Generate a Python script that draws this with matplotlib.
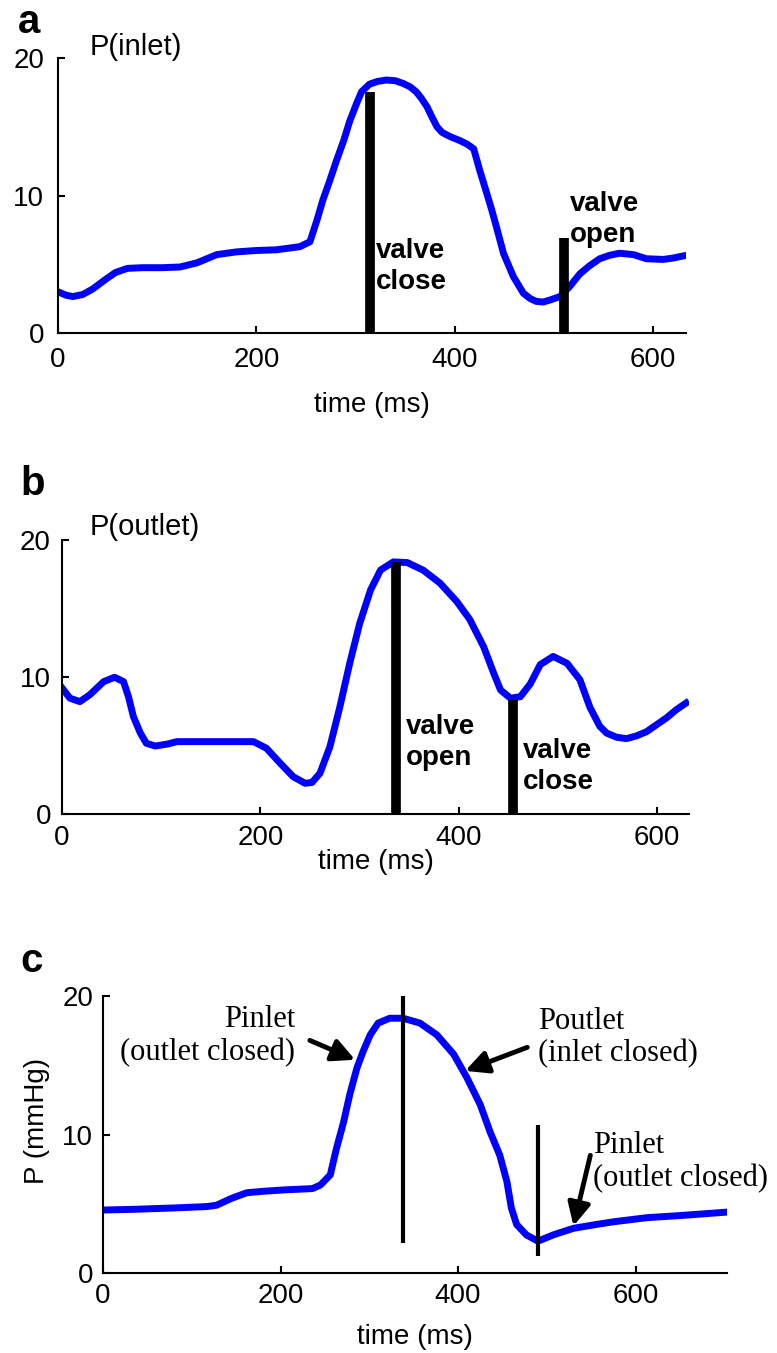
import matplotlib
matplotlib.use("Agg")
import matplotlib.pyplot as plt

plt.rcParams['font.family'] = ['Liberation Sans', 'DejaVu Sans']

# panel a: inlet pressure (mmHg) vs time (ms)
t_inlet = [0, 8, 15, 25, 35, 48, 58, 70, 85, 105, 123, 140, 160, 180, 200, 220,
           244, 254, 261, 267, 274, 281, 288, 294, 301, 306, 314, 322, 331, 340,
           348, 355, 361, 366, 372, 377, 382, 387, 392, 398, 405, 412, 419, 425,
           432, 437, 442, 449, 459, 469, 476, 482, 489, 496, 506, 516, 526, 536,
           546, 556, 566, 580, 593, 610, 620, 630]
p_inlet = [3.0, 2.75, 2.65, 2.8, 3.2, 3.9, 4.4, 4.7, 4.75, 4.75, 4.8, 5.1, 5.7,
           5.9, 6.0, 6.05, 6.28, 6.64, 8.2, 9.67, 11.1, 12.6, 14.0, 15.4, 16.7,
           17.55, 18.1, 18.3, 18.4, 18.35, 18.15, 17.9, 17.55, 17.1, 16.45, 15.7,
           15.0, 14.6, 14.4, 14.2, 14.0, 13.75, 13.4, 11.85, 10.2, 9.0, 7.7, 5.8,
           4.1, 2.9, 2.5, 2.3, 2.25, 2.4, 2.65, 3.4, 4.3, 4.9, 5.4, 5.65, 5.8,
           5.7, 5.4, 5.35, 5.45, 5.6]
inlet_marks = [314, 510]
inlet_mark_tops = [17.5, 6.9]
inlet_mark_labels = ["valve\nclose", "valve\nopen"]

# panel b: outlet pressure
t_outlet = [0, 8, 18, 28, 42, 53, 62, 67, 72, 79, 85, 94, 106, 116, 150, 193,
            206, 220, 233, 245, 252, 260, 270, 280, 290, 300, 311, 321, 334, 348,
            364, 381, 398, 411, 425, 435, 442, 452, 462, 472, 482, 495, 509, 522,
            532, 542, 549, 559, 569, 579, 589, 599, 609, 619, 629]
p_outlet = [9.2, 8.45, 8.2, 8.7, 9.66, 9.98, 9.66, 8.56, 7.1, 5.9, 5.16, 4.96,
            5.1, 5.28, 5.28, 5.28, 4.8, 3.7, 2.72, 2.24, 2.3, 2.97, 4.9, 7.8,
            11.0, 13.9, 16.35, 17.8, 18.4, 18.35, 17.8, 16.85, 15.5, 14.2, 12.2,
            10.3, 9.05, 8.45, 8.56, 9.5, 10.9, 11.5, 11.0, 9.8, 7.8, 6.4, 5.9,
            5.6, 5.5, 5.7, 6.0, 6.5, 7.0, 7.6, 8.1]
outlet_marks = [337, 455]
outlet_mark_tops = [18.4, 8.3]
outlet_mark_labels = ["valve\nopen", "valve\nclose"]

# panel c: combined
t_comb = [0, 34, 80, 117, 128, 145, 162, 180, 203, 236, 245, 256, 263, 271, 278,
          286, 293, 301, 310, 323, 338, 357, 376, 395, 410, 425, 436, 447, 455,
          460, 466, 477, 490, 507, 530, 555, 575, 613, 650, 703]
p_comb = [4.55, 4.6, 4.7, 4.8, 4.9, 5.4, 5.8, 5.9, 6.0, 6.1, 6.36, 7.09, 9.0,
          10.9, 12.9, 14.8, 16.0, 17.2, 18.05, 18.4, 18.4, 18.05, 17.2, 15.8,
          14.1, 12.15, 10.2, 8.5, 6.6, 4.7, 3.5, 2.75, 2.3, 2.75, 3.23, 3.5, 3.7,
          4.0, 4.15, 4.4]
comb_marks = [338, 490]
comb_mark_lo = [2.2, 1.2]
comb_mark_hi = [20.0, 10.7]
comb_notes = ["Pinlet\n(outlet closed)", "Poutlet\n(inlet closed)", "Pinlet\n(outlet closed)"]
note_text_xy = [(216, 17.1), (490, 17.0), (552, 8.0)]
note_tail_xy = [(233, 16.8), (478, 16.3), (549, 8.5)]
note_head_xy = [(284, 15.4), (408, 14.6), (530, 3.4)]

yticks = [0, 10, 20]
xticks = [0, 200, 400, 600]

fig = plt.figure(figsize=(7.77, 13.53), dpi=100)


def style(ax, xmax, pad):
    ax.set_xlim(0, xmax)
    ax.set_ylim(0, 20)
    ax.set_xticks(xticks)
    ax.set_yticks(yticks)
    for s in ['top', 'right']:
        ax.spines[s].set_visible(False)
    for s in ['left', 'bottom']:
        ax.spines[s].set_linewidth(1.5)
    ax.tick_params(direction='in', length=5, width=1.5, labelsize=20, pad=pad)


# ---- a ----
ax1 = fig.add_axes([0.0746, 0.7539, 0.8083, 0.2032])
ax1.plot(t_inlet, p_inlet, color='#0000ff', lw=5)
for x, top in zip(inlet_marks, inlet_mark_tops):
    ax1.plot([x, x], [0, top], color='black', lw=7, solid_capstyle='butt')
ax1.text(320, 4.8, inlet_mark_labels[0], fontsize=20, fontweight='bold',
         va='center', ha='left', linespacing=1.25)
ax1.text(516, 8.25, inlet_mark_labels[1], fontsize=20, fontweight='bold',
         va='center', ha='left', linespacing=1.25)
style(ax1, 633, 10)
ax1.set_xlabel("time (ms)", fontsize=20, va='center')
ax1.xaxis.set_label_coords(0.5, -0.262)
fig.text(0.0232, 0.9756, "a", fontsize=29, fontweight='bold')
fig.text(0.1158, 0.9593, "P(inlet)", fontsize=21)

# ---- b ----
ax2 = fig.add_axes([0.0798, 0.3984, 0.8070, 0.2025])
ax2.plot(t_outlet, p_outlet, color='#0000ff', lw=5)
for x, top in zip(outlet_marks, outlet_mark_tops):
    ax2.plot([x, x], [0, top], color='black', lw=7, solid_capstyle='butt')
ax2.text(347, 5.25, outlet_mark_labels[0], fontsize=20, fontweight='bold',
         va='center', ha='left', linespacing=1.25)
ax2.text(465, 3.5, outlet_mark_labels[1], fontsize=20, fontweight='bold',
         va='center', ha='left', linespacing=1.25)
style(ax2, 632, 8)
ax2.set_xlabel("time (ms)", fontsize=20, va='center')
ax2.xaxis.set_label_coords(0.5, -0.175)
fig.text(0.0257, 0.6341, "b", fontsize=29, fontweight='bold')
fig.text(0.1158, 0.6046, "P(outlet)", fontsize=21)

# ---- c ----
ax3 = fig.add_axes([0.1326, 0.0591, 0.8031, 0.2047])
ax3.plot(t_comb, p_comb, color='#0000ff', lw=5)
for x, lo, hi in zip(comb_marks, comb_mark_lo, comb_mark_hi):
    ax3.plot([x, x], [lo, hi], color='black', lw=3, solid_capstyle='butt')
for i, (lab, txy, tail, head) in enumerate(zip(comb_notes, note_text_xy,
                                               note_tail_xy, note_head_xy)):
    ax3.text(txy[0], txy[1], lab, fontsize=22, family='Liberation Serif',
             va='center', ha='right' if i == 0 else 'left', linespacing=1.15)
    ax3.annotate("", xy=head, xytext=tail,
                 arrowprops=dict(arrowstyle='-|>', lw=3.5, color='black',
                                 mutation_scale=34, shrinkA=0, shrinkB=0))
style(ax3, 703, 7)
ax3.set_xlabel("time (ms)", fontsize=20, va='center')
ax3.xaxis.set_label_coords(0.5, -0.231)
ax3.set_ylabel("P (mmHg)", fontsize=20, va='center')
ax3.yaxis.set_label_coords(-0.106, 0.55)
fig.text(0.0257, 0.2816, "c", fontsize=29, fontweight='bold')

fig.savefig("out.png", dpi=100)
